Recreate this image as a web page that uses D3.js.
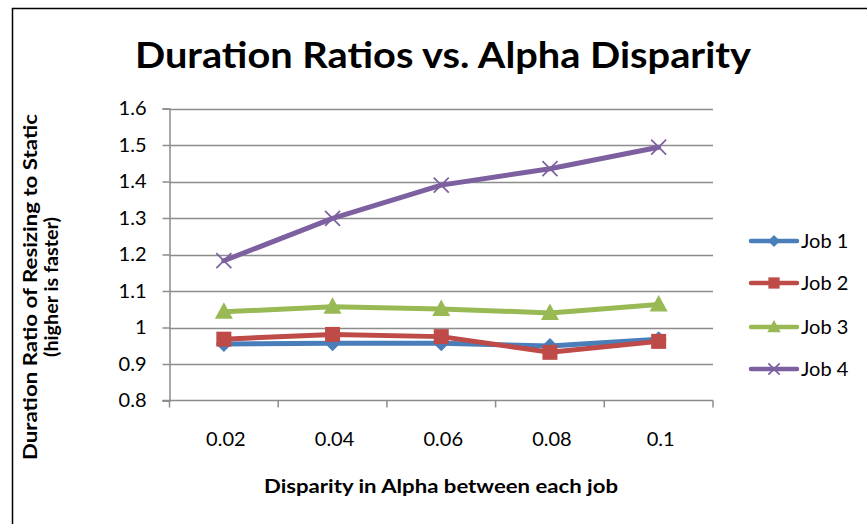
<!DOCTYPE html>
<html>
<head>
<meta charset="utf-8">
<script src="https://cdn.jsdelivr.net/npm/d3@7"></script>
<style>
  html, body { margin: 0; padding: 0; background: #fff; }
  svg { display: block; }
  text { font-family: Lato, "Open Sans", "DejaVu Sans", sans-serif; fill: #000; }
</style>
</head>
<body>
<svg id="chart" width="867" height="524"></svg>
<script>
// Alpha disparity between jobs (x categories)
const categories = ["0.02", "0.04", "0.06", "0.08", "0.1"];

// Duration ratio (resizing / static) per job
const job1 = [0.955, 0.957, 0.957, 0.949, 0.968];
const job2 = [0.968, 0.981, 0.975, 0.932, 0.962];
const job3 = [1.043, 1.057, 1.051, 1.040, 1.063];
const job4 = [1.183, 1.299, 1.390, 1.435, 1.494];

const seriesNames = ["Job 1", "Job 2", "Job 3", "Job 4"];
const yTicks = [0.8, 0.9, 1.0, 1.1, 1.2, 1.3, 1.4, 1.5, 1.6];

const series = [
  { name: seriesNames[0], values: job1, color: "#4A7EBB", marker: "diamond" },
  { name: seriesNames[1], values: job2, color: "#BE4B48", marker: "square" },
  { name: seriesNames[2], values: job3, color: "#98B954", marker: "triangle" },
  { name: seriesNames[3], values: job4, color: "#7D60A0", marker: "cross" }
];

const svg = d3.select("#chart");
const plot = { left: 169.5, right: 713, top: 108.5, bottom: 400.5 };

const x = d3.scaleBand().domain(categories).range([plot.left, plot.right]);
const y = d3.scaleLinear().domain([0.8, 1.6]).range([plot.bottom, plot.top]);

// outer chart frame (left and top edges)
svg.append("path")
  .attr("d", "M12.5,524 L12.5,8.5 L867,8.5")
  .attr("fill", "none").attr("stroke", "#000").attr("stroke-width", 1.5);

// title
svg.append("text")
  .attr("x", 443).attr("y", 68)
  .attr("text-anchor", "middle")
  .attr("font-size", 37).attr("font-weight", 700)
  .attr("textLength", 616).attr("lengthAdjust", "spacingAndGlyphs")
  .text("Duration Ratios vs. Alpha Disparity");

// horizontal gridlines
svg.append("g").selectAll("line")
  .data(yTicks.slice(1))
  .join("line")
  .attr("x1", plot.left).attr("x2", plot.right)
  .attr("y1", d => Math.round(y(d)) + 0.5).attr("y2", d => Math.round(y(d)) + 0.5)
  .attr("stroke", "#8c8c8c").attr("stroke-width", 1.5);

// y axis
const yAxis = svg.append("g")
  .attr("transform", `translate(${plot.left},0)`)
  .call(d3.axisLeft(y).tickValues(yTicks).tickSize(7).tickPadding(16)
    .tickFormat(d => d3.format("")(+d.toFixed(1))));
yAxis.select(".domain").attr("stroke", "#8c8c8c").attr("stroke-width", 1.5);
yAxis.selectAll(".tick line").attr("stroke", "#8c8c8c").attr("stroke-width", 1.5);
yAxis.selectAll(".tick text").attr("font-size", 20).attr("font-family", "Lato, sans-serif").attr("fill", "#000");

// x axis: ticks sit on the category boundaries
const xAxis = svg.append("g")
  .attr("transform", `translate(0,${plot.bottom})`);
xAxis.append("line")
  .attr("x1", plot.left - 7).attr("x2", plot.right)
  .attr("stroke", "#8c8c8c").attr("stroke-width", 1.5);
const boundaries = categories.map(c => x(c)).concat([x(categories[categories.length - 1]) + x.bandwidth()]);
xAxis.selectAll("line.tk")
  .data(boundaries)
  .join("line").attr("class", "tk")
  .attr("x1", d => d).attr("x2", d => d)
  .attr("y1", 0).attr("y2", 7)
  .attr("stroke", "#8c8c8c").attr("stroke-width", 1.5);
xAxis.selectAll("text")
  .data(categories)
  .join("text")
  .attr("x", d => x(d) + x.bandwidth() / 2 + 2)
  .attr("y", 45)
  .attr("text-anchor", "middle")
  .attr("font-size", 20)
  .text(d => d);

// axis titles
svg.append("text")
  .attr("x", 441).attr("y", 493)
  .attr("text-anchor", "middle")
  .attr("font-size", 18).attr("font-weight", 700)
  .attr("textLength", 354).attr("lengthAdjust", "spacingAndGlyphs")
  .text("Disparity in Alpha between each job");

const yTitle = svg.append("g").attr("transform", "translate(37,287) rotate(-90)");
yTitle.append("text")
  .attr("x", 0).attr("y", 0)
  .attr("text-anchor", "middle")
  .attr("font-size", 18).attr("font-weight", 700)
  .attr("textLength", 346).attr("lengthAdjust", "spacingAndGlyphs")
  .text("Duration Ratio of Resizing to Static");
yTitle.append("text")
  .attr("x", 0).attr("y", 21)
  .attr("text-anchor", "middle")
  .attr("font-size", 18).attr("font-weight", 700)
  .attr("textLength", 140).attr("lengthAdjust", "spacingAndGlyphs")
  .text("(higher is faster)");

// marker drawing
function drawMarker(g, type, color, scale) {
  const s = scale || 1;
  if (type === "diamond") {
    const h = 8 * s;
    g.append("path").attr("d", `M0,${-h} L${h},0 L0,${h} L${-h},0 Z`)
      .attr("fill", color);
  } else if (type === "square") {
    const h = 7.5 * s;
    g.append("rect").attr("x", -h).attr("y", -h).attr("width", 2 * h).attr("height", 2 * h)
      .attr("fill", color);
  } else if (type === "triangle") {
    const w = 9 * s;
    g.append("path").attr("d", `M0,${-9.5 * s} L${w},${7 * s} L${-w},${7 * s} Z`)
      .attr("fill", color);
  } else if (type === "cross") {
    const h = 7.5 * s;
    g.append("path").attr("d", `M${-h},${-h} L${h},${h} M${-h},${h} L${h},${-h}`)
      .attr("stroke", color).attr("stroke-width", 1.7).attr("fill", "none");
  }
}

const line = d3.line()
  .x((d, i) => x(categories[i]) + x.bandwidth() / 2)
  .y(d => y(d));

const seriesG = svg.append("g");
series.forEach(s => {
  const g = seriesG.append("g");
  g.append("path")
    .attr("d", line(s.values))
    .attr("fill", "none")
    .attr("stroke", s.color)
    .attr("stroke-width", 5)
    .attr("stroke-linejoin", "round")
    .attr("stroke-linecap", "round");
  s.values.forEach((v, i) => {
    const m = g.append("g")
      .attr("transform", `translate(${x(categories[i]) + x.bandwidth() / 2},${y(v)})`);
    drawMarker(m, s.marker, s.color, 1);
  });
});

// legend
const legendY = [241, 283, 327, 369];
const legend = svg.append("g");
series.forEach((s, i) => {
  const g = legend.append("g").attr("transform", `translate(0,${legendY[i]})`);
  g.append("line")
    .attr("x1", 751).attr("x2", 797)
    .attr("stroke", s.color).attr("stroke-width", 4.5)
    .attr("stroke-linecap", "round");
  const m = g.append("g").attr("transform", "translate(774,0)");
  drawMarker(m, s.marker, s.color, 0.75);
  g.append("text")
    .attr("x", 801).attr("y", 7)
    .attr("font-size", 20)
    .text(s.name);
});
</script>
</body>
</html>
